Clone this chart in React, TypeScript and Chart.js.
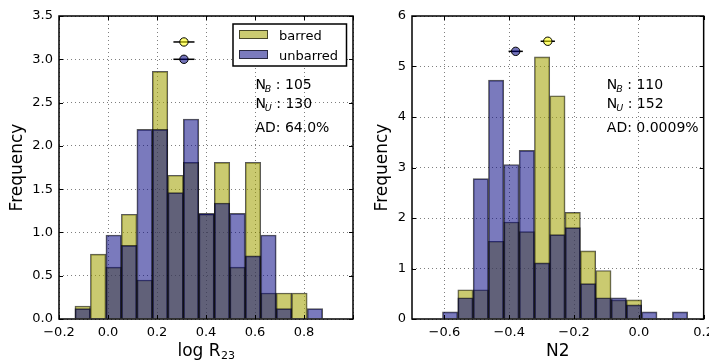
import React, { useEffect, useRef } from 'react';
import { Chart, registerables } from 'chart.js';

Chart.register(...registerables);

const FONT = "'DejaVu Sans', 'Liberation Sans', sans-serif";

// ---------- Left panel: log R23 ----------
const r23BinEdges = [-0.135, -0.0718, -0.0086, 0.0546, 0.1178, 0.181, 0.2442, 0.3074, 0.3706, 0.4338, 0.497, 0.5602, 0.6234, 0.6866, 0.7498, 0.813, 0.8762];
const r23Barred = [0.15, 0.75, 0.6, 1.21, 0.45, 2.86, 1.66, 1.81, 1.21, 1.81, 0.6, 1.81, 0.3, 0.3, 0.3, 0];
const r23Unbarred = [0.12, 0, 0.97, 0.85, 2.19, 2.19, 1.46, 2.31, 1.22, 1.34, 1.22, 0.73, 0.97, 0.12, 0, 0.12];
const r23MeanX = [0.31, 0.31];
const r23MeanY = [3.2, 3.0];
const r23MeanErr = [0.043, 0.043];
const r23XTicks = [-0.2, 0, 0.2, 0.4, 0.6, 0.8, 1.0];
const r23XHidden = [1.0];
const r23YTicks = [0, 0.5, 1.0, 1.5, 2.0, 2.5, 3.0, 3.5];
const r23Stats = ['105', '130', 'AD: 64.0%'];

// ---------- Right panel: N2 ----------
const n2BinEdges = [-0.606, -0.5587, -0.5114, -0.4641, -0.4168, -0.3695, -0.3222, -0.2749, -0.2276, -0.1803, -0.133, -0.0857, -0.0384, 0.0089, 0.0562, 0.1035, 0.1508];
const n2Barred = [0, 0.58, 0.58, 1.54, 1.92, 1.73, 5.19, 4.42, 2.11, 1.35, 0.96, 0.38, 0.38, 0, 0, 0];
const n2Unbarred = [0.14, 0.42, 2.78, 4.73, 3.06, 3.34, 1.11, 1.67, 1.81, 0.7, 0.42, 0.42, 0.28, 0.14, 0, 0.14];
const n2MeanX = [-0.281, -0.38];
const n2MeanY = [5.5, 5.3];
const n2MeanErr = [0.022, 0.022];
const n2XTicks = [-0.6, -0.4, -0.2, 0, 0.2];
const n2XHidden: number[] = [];
const n2YTicks = [0, 1, 2, 3, 4, 5, 6];
const n2Stats = ['110', '152', 'AD: 0.0009%'];

const seriesNames = ['barred', 'unbarred'];

const BARRED_FILL = 'rgba(160,160,0,0.56)';
const UNBARRED_FILL = 'rgba(0,0,128,0.52)';
const EDGE = 'rgba(0,0,0,0.65)';
const MARKER_FILL = ['rgba(255,255,0,0.55)', 'rgba(0,0,128,0.55)'];

type Spec = {
  id: string;
  edges: number[];
  barred: number[];
  unbarred: number[];
  meanX: number[];
  meanY: number[];
  meanErr: number[];
  xMin: number;
  xMax: number;
  yMax: number;
  xTicks: number[];
  xHidden: number[];
  yTicks: number[];
  yDecimals: number;
  stats: string[];
  xTitle: { main: string; sub: string };
  legend: boolean;
  canvasLeft: number;
  yAxisWidth: number;
  padRight: number;
  yTitleX: number;
};

const W = 360;
const H = 362;

const fmt = (v: number, d: number) => {
  const s = Math.abs(v) < 1e-9 ? (0).toFixed(d) : v.toFixed(d);
  return s.replace('-', '\u2212');
};

function makeChart(canvas: HTMLCanvasElement, p: Spec) {
  const centers = p.edges.slice(0, -1).map((e, i) => (e + p.edges[i + 1]) / 2);
  const toData = (vals: number[]) => vals.map((v, i) => ({ x: centers[i], y: v === 0 ? null : v }));

  const overlay = {
    id: 'overlay' + p.id,
    beforeDatasetsDraw(chart: any) {
      const ctx = chart.ctx;
      const xs = chart.scales.x;
      const ys = chart.scales.y;
      ctx.save();
      ctx.strokeStyle = '#000';
      ctx.lineWidth = 1.5;
      p.meanX.forEach((mx, i) => {
        const y = ys.getPixelForValue(p.meanY[i]);
        ctx.beginPath();
        ctx.moveTo(xs.getPixelForValue(mx - p.meanErr[i]), y);
        ctx.lineTo(xs.getPixelForValue(mx + p.meanErr[i]), y);
        ctx.stroke();
      });
      ctx.restore();
    },
    afterDatasetsDraw(chart: any) {
      const ctx = chart.ctx;
      const a = chart.chartArea;
      const xs = chart.scales.x;
      const ys = chart.scales.y;
      ctx.save();
      ctx.strokeStyle = '#000';
      ctx.lineWidth = 1;
      const tl = 4;
      ctx.beginPath();
      p.xTicks.forEach((v) => {
        const x = Math.round(xs.getPixelForValue(v)) + 0.5;
        ctx.moveTo(x, a.bottom);
        ctx.lineTo(x, a.bottom - tl);
        ctx.moveTo(x, a.top);
        ctx.lineTo(x, a.top + tl);
      });
      p.yTicks.forEach((v) => {
        const y = Math.round(ys.getPixelForValue(v)) + 0.5;
        ctx.moveTo(a.left, y);
        ctx.lineTo(a.left + tl, y);
        ctx.moveTo(a.right, y);
        ctx.lineTo(a.right - tl, y);
      });
      ctx.stroke();
      ctx.lineWidth = 1.5;
      ctx.strokeRect(a.left, a.top, a.right - a.left, a.bottom - a.top);
      ctx.restore();
    },
    afterDraw(chart: any) {
      const ctx = chart.ctx;
      const a = chart.chartArea;
      const aw = a.right - a.left;
      const ah = a.bottom - a.top;
      ctx.save();
      ctx.fillStyle = '#000';
      ctx.textBaseline = 'alphabetic';
      ctx.textAlign = 'left';

      // x title
      ctx.font = `17px ${FONT}`;
      const mw = ctx.measureText(p.xTitle.main).width;
      ctx.font = `11px ${FONT}`;
      const sw = p.xTitle.sub ? ctx.measureText(p.xTitle.sub).width : 0;
      const cx = (a.left + a.right) / 2;
      const x0 = cx - (mw + sw) / 2;
      ctx.font = `17px ${FONT}`;
      ctx.fillText(p.xTitle.main, x0, 355.5);
      if (p.xTitle.sub) {
        ctx.font = `11px ${FONT}`;
        ctx.fillText(p.xTitle.sub, x0 + mw + 0.5, 359);
      }

      // y title
      ctx.save();
      ctx.translate(p.yTitleX, (a.top + a.bottom) / 2);
      ctx.rotate(-Math.PI / 2);
      ctx.font = `17px ${FONT}`;
      ctx.textAlign = 'center';
      ctx.textBaseline = 'middle';
      ctx.fillText('Frequency', 0, 0);
      ctx.restore();

      // stats text
      const sx = a.left + aw * 0.668;
      const base = [a.top + ah * 0.241, a.top + ah * 0.302, a.top + ah * 0.383];
      const subs = ['B', 'U'];
      for (let i = 0; i < 2; i++) {
        ctx.font = `14px ${FONT}`;
        ctx.fillText('N', sx, base[i]);
        const nw = ctx.measureText('N').width;
        ctx.font = `italic 9.5px ${FONT}`;
        ctx.fillText(subs[i], sx + nw - 1, base[i] + 3);
        const bw = ctx.measureText(subs[i]).width;
        ctx.font = `14px ${FONT}`;
        ctx.fillText(' : ' + p.stats[i], sx + nw - 1 + bw, base[i]);
      }
      ctx.font = `14px ${FONT}`;
      ctx.fillText(p.stats[2], sx, base[2]);

      // legend
      if (p.legend) {
        const bx1 = a.right - 6.5;
        const bx0 = bx1 - 113.5;
        const by0 = a.top + 8;
        const by1 = by0 + 42;
        ctx.fillStyle = '#fff';
        ctx.fillRect(bx0, by0, bx1 - bx0, by1 - by0);
        ctx.strokeStyle = '#000';
        ctx.lineWidth = 1.5;
        ctx.strokeRect(bx0, by0, bx1 - bx0, by1 - by0);
        const fills = [BARRED_FILL, UNBARRED_FILL];
        const rows = [by0 + 6, by0 + 26];
        rows.forEach((ry, i) => {
          ctx.fillStyle = fills[i];
          ctx.fillRect(bx0 + 6, ry, 29, 9);
          ctx.strokeStyle = EDGE;
          ctx.lineWidth = 1;
          ctx.strokeRect(bx0 + 6.5, ry + 0.5, 28, 8);
          ctx.fillStyle = '#000';
          ctx.font = `13px ${FONT}`;
          ctx.fillText(seriesNames[i], bx0 + 46, ry + 9.5);
        });
      }
      ctx.restore();
    },
  };

  return new Chart(canvas, {
    type: 'bar',
    data: {
      datasets: [
        {
          type: 'bar',
          label: seriesNames[0],
          data: toData(p.barred) as any,
          backgroundColor: BARRED_FILL,
          borderColor: EDGE,
          borderWidth: 1,
          borderSkipped: 'start',
          grouped: false,
          barPercentage: 1,
          categoryPercentage: 1,
          order: 2,
        } as any,
        {
          type: 'bar',
          label: seriesNames[1],
          data: toData(p.unbarred) as any,
          backgroundColor: UNBARRED_FILL,
          borderColor: EDGE,
          borderWidth: 1,
          borderSkipped: 'start',
          grouped: false,
          barPercentage: 1,
          categoryPercentage: 1,
          order: 1,
        } as any,
        {
          type: 'scatter',
          label: 'means',
          data: p.meanX.map((x, i) => ({ x, y: p.meanY[i] })) as any,
          pointRadius: 4.2,
          pointBackgroundColor: MARKER_FILL,
          pointBorderColor: '#000',
          pointBorderWidth: 1,
          order: 0,
        } as any,
      ],
    },
    options: {
      responsive: false,
      animation: false,
      devicePixelRatio: 1,
      events: [],
      layout: { padding: { top: 16, right: p.padRight, left: 0, bottom: 0 } },
      plugins: { legend: { display: false }, tooltip: { enabled: false } },
      scales: {
        x: {
          type: 'linear',
          min: p.xMin,
          max: p.xMax,
          offset: false,
          afterBuildTicks: (s: any) => {
            s.ticks = p.xTicks.map((v) => ({ value: v }));
          },
          afterFit: (s: any) => {
            s.height = 43;
          },
          ticks: {
            autoSkip: false,
            maxRotation: 0,
            padding: 6,
            color: '#000',
            font: { family: FONT, size: 13 },
            callback: (v: any) => (p.xHidden.some((h) => Math.abs(h - v) < 1e-9) ? '' : fmt(Number(v), 1)),
          },
          grid: { offset: false, drawTicks: false, color: 'rgba(0,0,0,0.5)', lineWidth: 1, borderDash: [1, 3] } as any,
          border: { display: false, dash: [1, 3] },
        } as any,
        y: {
          type: 'linear',
          min: 0,
          max: p.yMax,
          afterBuildTicks: (s: any) => {
            s.ticks = p.yTicks.map((v) => ({ value: v }));
          },
          afterFit: (s: any) => {
            s.width = p.yAxisWidth;
          },
          ticks: {
            autoSkip: false,
            padding: 6,
            color: '#000',
            font: { family: FONT, size: 13 },
            callback: (v: any) => fmt(Number(v), p.yDecimals),
          },
          grid: { drawTicks: false, color: 'rgba(0,0,0,0.5)', lineWidth: 1, borderDash: [1, 3] } as any,
          border: { display: false, dash: [1, 3] },
        } as any,
      },
    },
    plugins: [overlay],
  });
}

const leftSpec: Spec = {
  id: 'r23',
  edges: r23BinEdges,
  barred: r23Barred,
  unbarred: r23Unbarred,
  meanX: r23MeanX,
  meanY: r23MeanY,
  meanErr: r23MeanErr,
  xMin: -0.2,
  xMax: 1.0,
  yMax: 3.5,
  xTicks: r23XTicks,
  xHidden: r23XHidden,
  yTicks: r23YTicks,
  yDecimals: 1,
  stats: r23Stats,
  xTitle: { main: 'log R', sub: '23' },
  legend: true,
  canvasLeft: 0,
  yAxisWidth: 59,
  padRight: 7,
  yTitleX: 17.5,
};

const rightSpec: Spec = {
  id: 'n2',
  edges: n2BinEdges,
  barred: n2Barred,
  unbarred: n2Unbarred,
  meanX: n2MeanX,
  meanY: n2MeanY,
  meanErr: n2MeanErr,
  xMin: -0.7,
  xMax: 0.2,
  yMax: 6,
  xTicks: n2XTicks,
  xHidden: n2XHidden,
  yTicks: n2YTicks,
  yDecimals: 0,
  stats: n2Stats,
  xTitle: { main: 'N2', sub: '' },
  legend: false,
  canvasLeft: 360,
  yAxisWidth: 52,
  padRight: 14,
  yTitleX: 22.5,
};

function Panel({ spec }: { spec: Spec }) {
  const ref = useRef<HTMLCanvasElement | null>(null);
  useEffect(() => {
    if (!ref.current) return;
    const chart = makeChart(ref.current, spec);
    return () => chart.destroy();
  }, [spec]);
  return (
    <canvas
      ref={ref}
      width={W}
      height={H}
      style={{ position: 'absolute', left: spec.canvasLeft, top: 0, width: W, height: H }}
    />
  );
}

export default function App() {
  return (
    <div
      style={{
        position: 'fixed',
        left: 0,
        top: 0,
        width: 709,
        height: 362,
        overflow: 'hidden',
        background: '#fff',
      }}
    >
      <Panel spec={leftSpec} />
      <Panel spec={rightSpec} />
    </div>
  );
}
